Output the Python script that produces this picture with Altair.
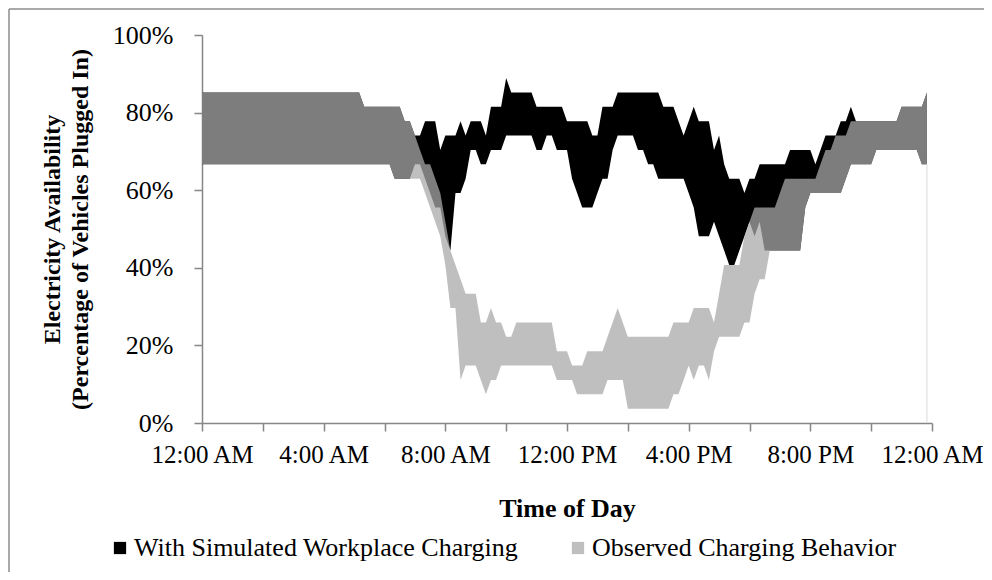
import altair as alt
import pandas as pd

# Vehicles plugged in (out of 27) at each 10-minute step, 12:00 AM .. 11:50 PM
N_VEHICLES = 27
STEP_HOURS = 1 / 6

obs_hi = [
    23, 23, 23, 23, 23, 23, 23, 23, 23, 23, 23, 23,
    23, 23, 23, 23, 23, 23, 23, 23, 23, 23, 23, 23,
    23, 23, 23, 23, 23, 23, 23, 23, 22, 22, 22, 22,
    22, 22, 22, 22, 21, 21, 20, 19, 18, 18, 17, 16,
    14, 12, 11, 10, 9, 9, 9, 7, 7, 8, 7, 7,
    6, 6, 7, 7, 7, 7, 7, 7, 7, 7, 5, 5,
    5, 4, 4, 4, 5, 5, 5, 5, 6, 7, 8, 7,
    6, 6, 6, 6, 6, 6, 6, 6, 6, 7, 7, 7,
    7, 8, 8, 8, 8, 7, 9, 11, 11, 11, 11, 13,
    14, 15, 15, 15, 15, 15, 16, 17, 17, 17, 17, 17,
    17, 17, 18, 19, 19, 20, 20, 20, 21, 21, 21, 21,
    21, 21, 21, 21, 21, 21, 22, 22, 22, 22, 22, 23,
]
obs_lo = [
    18, 18, 18, 18, 18, 18, 18, 18, 18, 18, 18, 18,
    18, 18, 18, 18, 18, 18, 18, 18, 18, 18, 18, 18,
    18, 18, 18, 18, 18, 18, 18, 18, 18, 18, 18, 18,
    18, 18, 17, 17, 17, 17, 17, 17, 16, 15, 14, 13,
    11, 8, 8, 3, 4, 4, 4, 3, 2, 3, 3, 4,
    4, 4, 4, 4, 4, 4, 4, 4, 4, 4, 3, 3,
    3, 3, 2, 2, 2, 2, 2, 2, 3, 3, 3, 3,
    1, 1, 1, 1, 1, 1, 1, 1, 1, 2, 2, 3,
    4, 3, 4, 4, 3, 5, 6, 6, 6, 6, 6, 7,
    7, 9, 10, 10, 12, 12, 12, 12, 12, 12, 12, 15,
    16, 16, 16, 16, 16, 16, 16, 17, 18, 18, 18, 18,
    18, 19, 19, 19, 19, 19, 19, 19, 19, 19, 18, 18,
]
sim_hi = [
    23, 23, 23, 23, 23, 23, 23, 23, 23, 23, 23, 23,
    23, 23, 23, 23, 23, 23, 23, 23, 23, 23, 23, 23,
    23, 23, 23, 23, 23, 23, 23, 23, 22, 22, 22, 22,
    22, 22, 22, 22, 21, 21, 20, 20, 21, 21, 21, 19,
    20, 20, 20, 21, 20, 21, 21, 21, 20, 22, 22, 22,
    24, 23, 23, 23, 23, 23, 22, 22, 22, 22, 22, 22,
    21, 21, 21, 21, 21, 20, 20, 22, 22, 22, 23, 23,
    23, 23, 23, 23, 23, 23, 23, 22, 22, 22, 21, 20,
    21, 22, 21, 21, 21, 19, 20, 18, 17, 17, 17, 16,
    17, 17, 18, 18, 18, 18, 18, 18, 19, 19, 19, 19,
    19, 18, 19, 20, 20, 20, 21, 21, 22, 21, 21, 21,
    21, 21, 21, 21, 21, 21, 22, 22, 22, 22, 22, 23,
]
sim_lo = [
    18, 18, 18, 18, 18, 18, 18, 18, 18, 18, 18, 18,
    18, 18, 18, 18, 18, 18, 18, 18, 18, 18, 18, 18,
    18, 18, 18, 18, 18, 18, 18, 18, 18, 18, 18, 18,
    18, 18, 17, 17, 17, 17, 18, 18, 17, 16, 15, 15,
    13, 12, 16, 16, 17, 19, 19, 18, 18, 19, 19, 19,
    20, 20, 20, 20, 20, 20, 19, 19, 20, 20, 19, 19,
    19, 17, 16, 15, 15, 15, 16, 17, 17, 19, 20, 20,
    20, 20, 19, 19, 18, 18, 17, 17, 17, 17, 17, 17,
    16, 15, 13, 13, 13, 14, 13, 12, 11, 11, 12, 13,
    14, 13, 14, 12, 12, 12, 12, 12, 12, 12, 12, 15,
    16, 16, 16, 16, 16, 16, 16, 17, 18, 18, 18, 18,
    18, 19, 19, 19, 19, 19, 19, 19, 19, 19, 18, 18,
]

series_names = ["With Simulated Workplace Charging", "Observed Charging Behavior"]
x_tick_hours = [0, 2, 4, 6, 8, 10, 12, 14, 16, 18, 20, 22, 24]
x_label_text = ["12:00 AM", "4:00 AM", "8:00 AM", "12:00 PM", "4:00 PM", "8:00 PM", "12:00 AM"]
y_tick_values = [0, 0.1, 0.2, 0.3, 0.4, 0.5, 0.6, 0.7, 0.8, 0.9, 1.0]


def band(lo, hi, name):
    return pd.DataFrame({
        "t": [i * STEP_HOURS for i in range(len(lo))],
        "lo": [v / N_VEHICLES for v in lo],
        "hi": [v / N_VEHICLES for v in hi],
        "series": name,
    })


sim_df = band(sim_lo, sim_hi, series_names[0])
obs_df = band(obs_lo, obs_hi, series_names[1])
end_df = obs_df.tail(1).assign(zero=0.0)

FONT = "Liberation Serif"
label_js = "[" + ",".join("'" + s + "'" for s in x_label_text) + "]"

x_enc = alt.X(
    "t:Q",
    scale=alt.Scale(domain=[0, 24], nice=False, zero=False),
    axis=alt.Axis(
        values=x_tick_hours,
        labelExpr=f"datum.value % 4 == 0 ? {label_js}[datum.value / 4] : ''",
        labelOverlap=False,
        labelFlush=False,
        labelPadding=11,
        labelFontSize=25,
        title="Time of Day",
        titlePadding=28,
        grid=False,
    ),
)
y_enc = alt.Y(
    "hi:Q",
    scale=alt.Scale(domain=[0, 1], nice=False),
    axis=alt.Axis(
        values=y_tick_values,
        labelExpr="round(datum.value * 100) % 20 == 0 ? format(datum.value, '.0%') : ''",
        labelPadding=21,
        title=["Electricity Availability", "(Percentage of Vehicles Plugged In)"],
        titlePadding=20,
        titleFontSize=24,
        titleLineHeight=28,
        grid=False,
    ),
)

color_scale = alt.Scale(domain=series_names, range=["#000000", "#a8a8a8"])
opacity_scale = alt.Scale(domain=series_names, range=[1.0, 0.74])
legend = alt.Legend(
    title=None,
    orient="none",
    direction="horizontal",
    legendX=-95,
    legendY=500,
    symbolType="square",
    symbolSize=150,
    symbolStrokeWidth=0,
    labelFont=FONT,
    labelFontSize=26,
    labelColor="#000000",
    labelOffset=1,
    labelLimit=1000,
    columnPadding=46,
)

sim_area = alt.Chart(sim_df).mark_area(interpolate="linear").encode(
    x=x_enc,
    y=y_enc,
    y2="lo:Q",
    color=alt.Color("series:N", scale=color_scale, legend=legend),
    opacity=alt.Opacity("series:N", scale=opacity_scale, legend=legend),
)
obs_area = alt.Chart(obs_df).mark_area(interpolate="linear").encode(
    x="t:Q",
    y="hi:Q",
    y2="lo:Q",
    color=alt.Color("series:N", scale=color_scale, legend=legend),
    opacity=alt.Opacity("series:N", scale=opacity_scale, legend=legend),
)
end_line = alt.Chart(end_df).mark_rule(color="#d9d9d9", strokeWidth=1).encode(
    x="t:Q", y="zero:Q", y2="lo:Q"
)

frame_df = pd.DataFrame({"k": [0]})
frame_left = alt.Chart(frame_df).mark_rule(color="#8c8c8c", strokeWidth=1.5).encode(
    x=alt.value(-193), y=alt.value(-26), y2=alt.value(540)
)
frame_top = alt.Chart(frame_df).mark_rule(color="#8c8c8c", strokeWidth=1.5).encode(
    x=alt.value(-193), x2=alt.value(790), y=alt.value(-26)
)

chart = (
    alt.layer(sim_area, obs_area, end_line, frame_left, frame_top)
    .properties(
        width=730,
        height=388,
        padding={"left": 194, "top": 27, "right": 52, "bottom": 149},
        autosize=alt.AutoSizeParams(type="none"),
        background="#ffffff",
    )
    .configure_view(stroke=None)
    .configure_axis(
        domainColor="#868686",
        domainWidth=1.5,
        tickColor="#868686",
        tickWidth=1.5,
        tickSize=8,
        labelFont=FONT,
        labelFontSize=26,
        labelColor="#000000",
        titleFont=FONT,
        titleFontSize=26,
        titleFontWeight="bold",
        titleColor="#000000",
    )
)

chart.save("out.html", embed_options={"renderer": "svg", "actions": False})
